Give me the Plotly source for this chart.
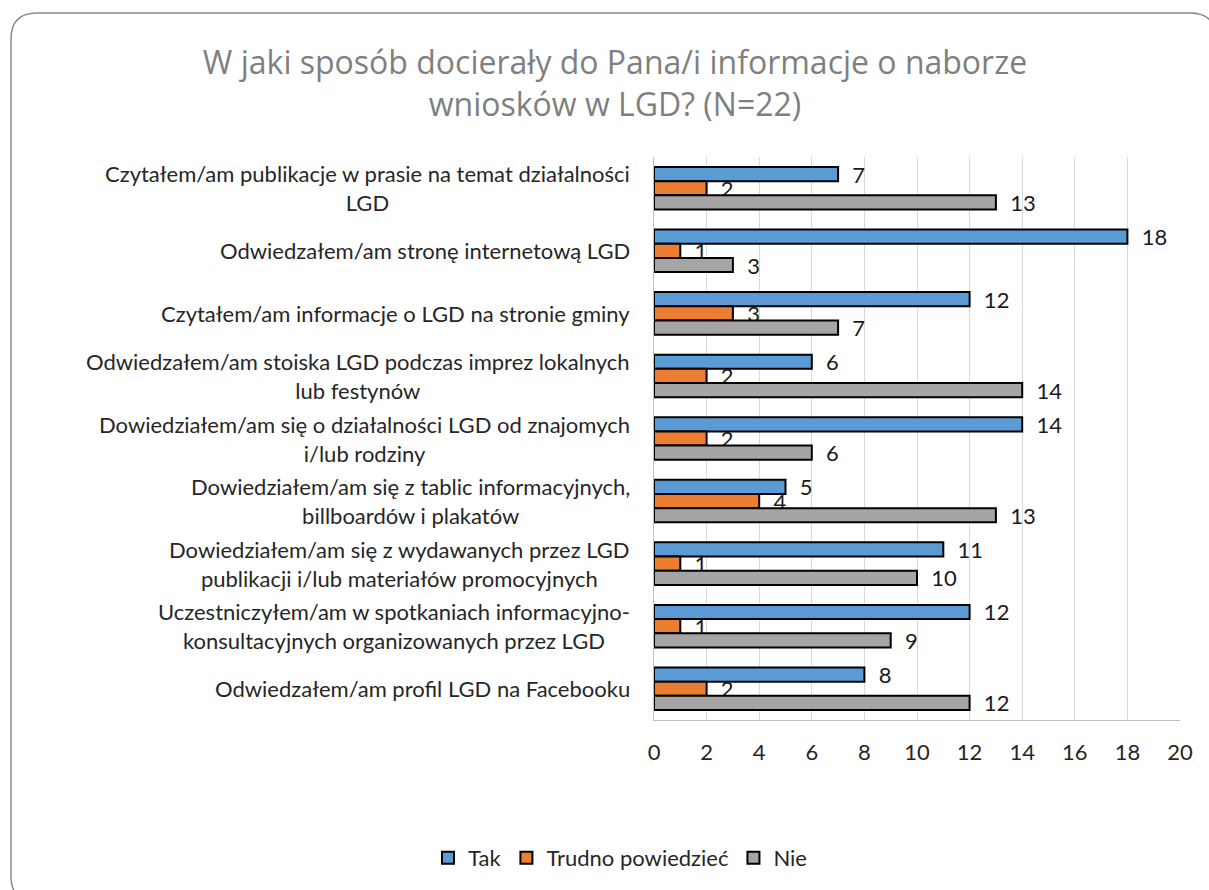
import plotly.graph_objects as go

categories = [
    "Czytałem/am publikacje w prasie na temat działalności<br>LGD",
    "Odwiedzałem/am stronę internetową LGD",
    "Czytałem/am informacje o LGD na stronie gminy",
    "Odwiedzałem/am stoiska LGD podczas imprez lokalnych<br>lub festynów",
    "Dowiedziałem/am się o działalności LGD od znajomych<br>i/lub rodziny",
    "Dowiedziałem/am się z tablic informacyjnych,<br>billboardów i plakatów",
    "Dowiedziałem/am się z wydawanych przez LGD<br>publikacji i/lub materiałów promocyjnych",
    "Uczestniczyłem/am w spotkaniach informacyjno-<br>konsultacyjnych organizowanych przez LGD",
    "Odwiedzałem/am profil LGD na Facebooku",
]
tak = [7, 18, 12, 6, 14, 5, 11, 12, 8]
trudno = [2, 1, 3, 2, 2, 4, 1, 1, 2]
nie = [13, 3, 7, 14, 6, 13, 10, 9, 12]
series_names = ["Tak", "Trudno powiedzieć", "Nie"]
colors = ["#5B9BD5", "#ED7D31", "#A5A5A5"]
x_ticks = list(range(0, 21, 2))

FONT = "Lato, 'Open Sans', sans-serif"
FS = 22
W, H = 1209, 890
L, R, T, B = 654, 1180, 157, 720

fig = go.Figure()
for name, vals, col in zip(series_names, [tak, trudno, nie], colors):
    fig.add_trace(go.Bar(
        y=categories, x=vals, name=name, orientation="h",
        marker=dict(color=col, line=dict(color="#000000", width=2)),
        text=vals, texttemplate="\u00a0\u00a0%{x}", textposition="outside",
        constraintext="none", cliponaxis=False,
        textfont=dict(family=FONT, size=FS, color="#1A1A1A"),
    ))

annotations = []
for c in categories:
    annotations.append(dict(
        x=0, xref="paper", y=c, yref="y", xanchor="right", yanchor="middle",
        xshift=-22, text=c, showarrow=False, align="center",
        font=dict(family=FONT, size=FS, color="#262626"),
    ))

def px2paper(px, py):
    return (px - L) / (R - L), (B - py) / (B - T)

def rounded_path(x0, y0, x1, y1, r):
    def p(px, py):
        a, b = px2paper(px, py)
        return f"{a:.5f},{b:.5f}"
    return (f"M {p(x0 + r, y0)} L {p(x1 - r, y0)} Q {p(x1, y0)} {p(x1, y0 + r)} "
            f"L {p(x1, y1 - r)} Q {p(x1, y1)} {p(x1 - r, y1)} "
            f"L {p(x0 + r, y1)} Q {p(x0, y1)} {p(x0, y1 - r)} "
            f"L {p(x0, y0 + r)} Q {p(x0, y0)} {p(x0 + r, y0)} Z")

fig.update_layout(
    width=W, height=H,
    margin=dict(l=L, r=W - R, t=T, b=H - B, autoexpand=False),
    paper_bgcolor="white", plot_bgcolor="white",
    barmode="group", bargap=0.32, bargroupgap=0,
    title=dict(
        text="W jaki sposób docierały do Pana/i informacje o naborze<br>wniosków w LGD? (N=22)",
        x=615 / W, xanchor="center", xref="container",
        y=(H - 74) / H, yanchor="middle", yref="container",
        font=dict(family="'Open Sans', sans-serif", size=32, color="#7F7F7F"),
    ),
    xaxis=dict(
        range=[0, 20], tickvals=x_ticks, showgrid=True, gridcolor="#D9D9D9", gridwidth=1,
        showline=True, linecolor="#BFBFBF", linewidth=1, zeroline=False,
        ticks="", ticklabelstandoff=13,
        tickfont=dict(family=FONT, size=FS, color="#262626"),
    ),
    yaxis=dict(
        autorange="reversed", showticklabels=False, ticks="",
        showline=True, linecolor="#BFBFBF", linewidth=1, showgrid=False,
    ),
    legend=dict(
        orientation="h", x=620 / W, xanchor="center", xref="container",
        y=(H - 858) / H, yanchor="middle", yref="container",
        font=dict(family=FONT, size=FS, color="#262626"),
        traceorder="normal", itemwidth=30,
    ),
    annotations=annotations,
    shapes=[dict(type="path", xref="paper", yref="paper",
                 path=rounded_path(11, 13, 1216, 902, 26),
                 line=dict(color="#8C8C8C", width=1.5), layer="above")],
    showlegend=True,
)

fig.write_html("out.html", config={"displayModeBar": False},
               post_script="document.body.style.margin='0';document.body.style.overflow='hidden';")
